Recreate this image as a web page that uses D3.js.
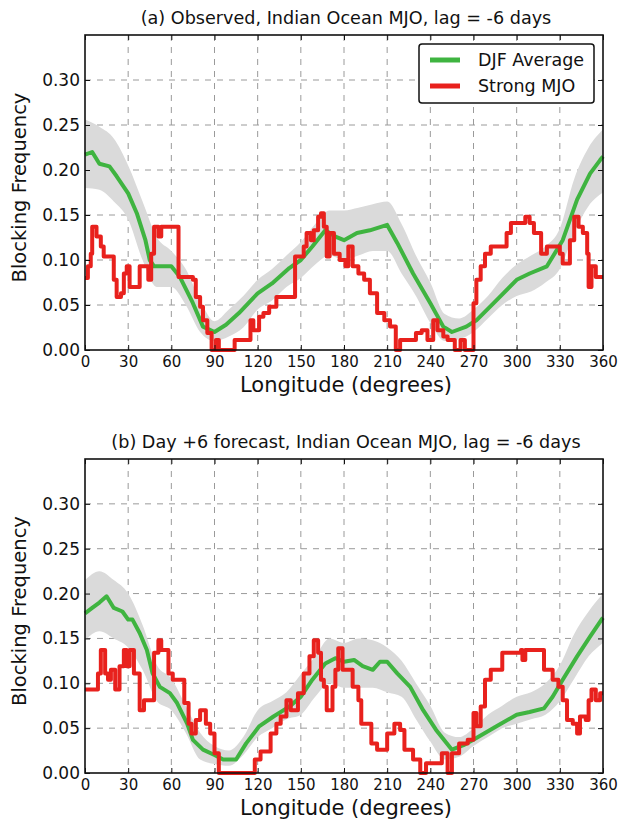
<!DOCTYPE html>
<html><head><meta charset="utf-8">
<script src="https://cdn.jsdelivr.net/npm/d3@7"></script>
<style>html,body{margin:0;padding:0;background:#fff;}svg{display:block;font-family:"DejaVu Sans",sans-serif;}</style>
</head><body>
<script>
const lonTicks = [0,30,60,90,120,150,180,210,240,270,300,330,360];
const freqTicks = [0,0.05,0.10,0.15,0.20,0.25,0.30];
const seriesNames = ["DJF Average","Strong MJO"];
const titles = ["(a) Observed, Indian Ocean MJO, lag = -6 days","(b) Day +6 forecast, Indian Ocean MJO, lag = -6 days"];

// Panel (a) DJF average
const aAvgLon = [0,5,10,17,22,30,36,42,45,48,52,60,66,75,82,90,98,107,120,130,142,150,158,167,174,180,189,198,210,217,228,240,249,255,265,272,284,300,309,321,332,342,351,358,360];
const aAvg = [.217,.22,.207,.204,.193,.174,.152,.122,.10,.093,.093,.093,.081,.052,.026,.02,.028,.041,.063,.074,.091,.10,.115,.133,.126,.122,.13,.133,.139,.119,.085,.052,.026,.02,.026,.033,.052,.078,.085,.093,.122,.167,.196,.211,.215];
const bandLon = [0,10,20,30,40,50,60,70,80,90,100,110,120,130,140,150,160,170,180,190,200,210,220,230,240,250,260,270,280,290,300,310,320,330,340,350,360];
const aBandHi = [.256,.248,.235,.205,.165,.125,.11,.09,.055,.032,.045,.06,.078,.09,.105,.12,.14,.155,.155,.158,.162,.165,.14,.105,.075,.04,.035,.045,.06,.08,.095,.105,.115,.135,.19,.225,.245];
const aBandLo = [.18,.178,.165,.145,.10,.07,.07,.05,.02,.01,.015,.025,.045,.055,.07,.08,.095,.105,.10,.105,.11,.11,.085,.06,.03,.01,.012,.02,.035,.05,.06,.065,.075,.09,.13,.16,.175];
// Panel (a) strong MJO (step values)
const aMjoLon = [0,2,4,5,8,11,13,19,20,22,25,27,29,31,37,38,43,44,46,48,51,53,64,65,75,77,80,82,85,88,91,93,103,104,113,115,117,121,124,128,133,145,146,152,154,157,159,162,164,166,168,170,173,177,181,183,186,190,194,198,203,208,212,216,219,230,234,238,242,245,249,252,257,261,264,270,272,275,278,282,293,296,306,309,312,317,321,330,332,337,340,343,346,349,350,352,355,360];
const aMjo = [.08,.093,.107,.137,.126,.115,.104,.104,.078,.059,.063,.085,.093,.07,.07,.093,.093,.078,.107,.137,.126,.137,.137,.081,.078,.059,.048,.033,.019,0,.011,0,0,.011,.011,.033,.022,.037,.041,.048,.059,.059,.104,.115,.13,.122,.133,.148,.152,.137,.104,.13,.107,.10,.093,.115,.093,.085,.078,.063,.041,.033,.026,0,.011,.019,.022,.011,.033,.022,.015,.011,0,.011,0,.052,.078,.093,.107,.115,.13,.141,.148,.141,.13,.107,.115,.107,.096,.122,.148,.137,.13,.107,.07,.093,.081,.081];

// Panel (b) DJF average
const bAvgLon = [0,5,10,15,20,26,30,33,38,43,47,52,59,64,71,75,82,90,96,105,112,121,131,142,150,158,167,174,180,187,193,200,205,210,217,226,235,244,255,263,272,286,300,309,319,325,332,342,351,359,360];
const bAvg = [.178,.184,.19,.197,.184,.18,.171,.171,.156,.137,.111,.096,.089,.078,.055,.037,.026,.02,.015,.015,.033,.052,.063,.074,.085,.104,.122,.128,.124,.126,.119,.115,.124,.124,.111,.096,.07,.048,.026,.031,.039,.052,.065,.068,.072,.085,.104,.13,.152,.171,.173];
const bBandHi = [.215,.225,.215,.20,.165,.12,.105,.075,.045,.03,.025,.04,.07,.08,.09,.11,.13,.15,.145,.15,.148,.14,.125,.10,.075,.045,.04,.05,.065,.075,.085,.09,.10,.12,.155,.18,.20];
const bBandLo = [.148,.158,.15,.14,.115,.08,.07,.045,.015,.01,.008,.02,.04,.05,.06,.065,.085,.10,.095,.095,.095,.09,.085,.06,.035,.015,.018,.03,.04,.05,.055,.06,.065,.08,.105,.13,.145];
// Panel (b) strong MJO
const bMjoLon = [0,9,11,14,16,18,21,24,27,29,31,34,38,41,48,51,53,58,61,69,72,74,77,80,84,87,90,93,118,122,129,133,136,140,143,148,152,156,159,162,164,166,168,172,174,176,179,186,190,192,199,203,210,215,219,222,228,233,237,248,252,255,260,266,270,272,275,278,282,290,303,304,306,318,319,325,329,332,335,339,342,344,348,350,352,355,358,360];
const bMjo = [.093,.111,.137,.111,.104,.115,.093,.119,.137,.119,.137,.111,.07,.081,.134,.148,.137,.111,.104,.078,.055,.044,.059,.07,.055,.044,.022,0,.015,.024,.044,.055,.063,.081,.07,.089,.111,.13,.148,.134,.104,.096,.07,.096,.115,.139,.115,.096,.081,.055,.033,.026,.044,.055,.048,.026,.015,0,.011,.022,0,.022,.033,.037,.067,.052,.074,.104,.115,.134,.137,.126,.137,.137,.115,.104,.096,.081,.059,.055,.044,.063,.059,.081,.093,.081,.089,.089];

const W = 620, H = 821;
const svg = d3.select("body").append("svg").attr("width", W).attr("height", H);
const GREEN = "#3fb440", RED = "#e8211d", BAND = "#dadada", GRID = "#9a9a9a";

function panel(top, bottom, title, avgLon, avg, bHi, bLo, mjoLon, mjo, legend) {
  const x = d3.scaleLinear().domain([0, 360]).range([85, 603]);
  const y = d3.scaleLinear().domain([0, 0.35]).range([bottom, top]);
  const g = svg.append("g");
  // grid
  g.selectAll(".vg").data(lonTicks.slice(1, -1)).join("line")
    .attr("x1", d => x(d)).attr("x2", d => x(d)).attr("y1", top).attr("y2", bottom)
    .attr("stroke", GRID).attr("stroke-dasharray", "6,6").attr("stroke-width", 1);
  g.selectAll(".hg").data(freqTicks.slice(1)).join("line")
    .attr("y1", d => y(d)).attr("y2", d => y(d)).attr("x1", 85).attr("x2", 603)
    .attr("stroke", GRID).attr("stroke-dasharray", "6,6").attr("stroke-width", 1);
  // band
  const bandData = bandLon.map((l, i) => ({l, hi: bHi[i], lo: bLo[i]}));
  g.append("path").datum(bandData)
    .attr("d", d3.area().x(d => x(d.l)).y0(d => y(d.lo)).y1(d => y(d.hi)).curve(d3.curveMonotoneX))
    .attr("fill", BAND);
  // avg
  g.append("path").datum(avgLon.map((l, i) => [l, avg[i]]))
    .attr("d", d3.line().x(d => x(d[0])).y(d => y(d[1])))
    .attr("fill", "none").attr("stroke", GREEN).attr("stroke-width", 4).attr("stroke-linejoin", "round");
  // mjo
  g.append("path").datum(mjoLon.map((l, i) => [l, mjo[i]]))
    .attr("d", d3.line().x(d => x(d[0])).y(d => y(d[1])).curve(d3.curveStepAfter))
    .attr("fill", "none").attr("stroke", RED).attr("stroke-width", 4).attr("stroke-linejoin", "round");
  // axes
  const ax = g.append("g").attr("transform", `translate(0,${bottom})`)
    .call(d3.axisBottom(x).tickValues(lonTicks).tickFormat(d3.format("d")).tickSizeInner(-5).tickSizeOuter(0).tickPadding(6));
  ax.selectAll("text").attr("font-size", 15).attr("font-family", "DejaVu Sans").attr("fill", "#111");
  const ay = g.append("g").attr("transform", `translate(85,0)`)
    .call(d3.axisLeft(y).tickValues(freqTicks).tickFormat(d3.format(".2f")).tickSizeInner(-5).tickSizeOuter(0).tickPadding(5));
  ay.selectAll("text").attr("font-size", 17).attr("font-family", "DejaVu Sans").attr("fill", "#111");
  g.append("g").attr("transform", `translate(0,${top})`)
    .call(d3.axisTop(x).tickValues(lonTicks).tickFormat("").tickSizeInner(-5).tickSizeOuter(0));
  g.append("g").attr("transform", `translate(603,0)`)
    .call(d3.axisRight(y).tickValues(freqTicks).tickFormat("").tickSizeInner(-5).tickSizeOuter(0));
  g.selectAll(".domain").remove();
  g.selectAll(".tick line").attr("stroke", "#111");
  g.append("rect").attr("x", 85).attr("y", top).attr("width", 518).attr("height", bottom - top)
    .attr("fill", "none").attr("stroke", "#111").attr("stroke-width", 1.6);
  // title & labels
  g.append("text").attr("x", 346).attr("y", top - 11).attr("text-anchor", "middle")
    .attr("font-size", 17.6).attr("fill", "#111").text(title);
  g.append("text").attr("x", 346).attr("y", bottom + 42).attr("text-anchor", "middle")
    .attr("font-size", 21).attr("fill", "#111").text("Longitude (degrees)");
  g.append("text").attr("transform", `translate(26,${(top + bottom) / 2 - 5}) rotate(-90)`).attr("text-anchor", "middle")
    .attr("font-size", 19.5).attr("fill", "#111").text("Blocking Frequency");
  if (legend) {
    const lg = g.append("g");
    lg.append("rect").attr("x", 419).attr("y", 44).attr("width", 175).attr("height", 59).attr("rx", 3)
      .attr("fill", "#fff").attr("stroke", "#111").attr("stroke-width", 1.5);
    [GREEN, RED].forEach((c, i) => {
      lg.append("line").attr("x1", 430).attr("x2", 460).attr("y1", 60 + i * 26).attr("y2", 60 + i * 26)
        .attr("stroke", c).attr("stroke-width", 5);
      lg.append("text").attr("x", 478).attr("y", 66 + i * 26).attr("font-size", 17.5).attr("fill", "#111").text(seriesNames[i]);
    });
  }
}

panel(35, 350, titles[0], aAvgLon, aAvg, aBandHi, aBandLo, aMjoLon, aMjo, true);
panel(459, 773, titles[1], bAvgLon, bAvg, bBandHi, bBandLo, bMjoLon, bMjo, false);
</script>
</body></html>
